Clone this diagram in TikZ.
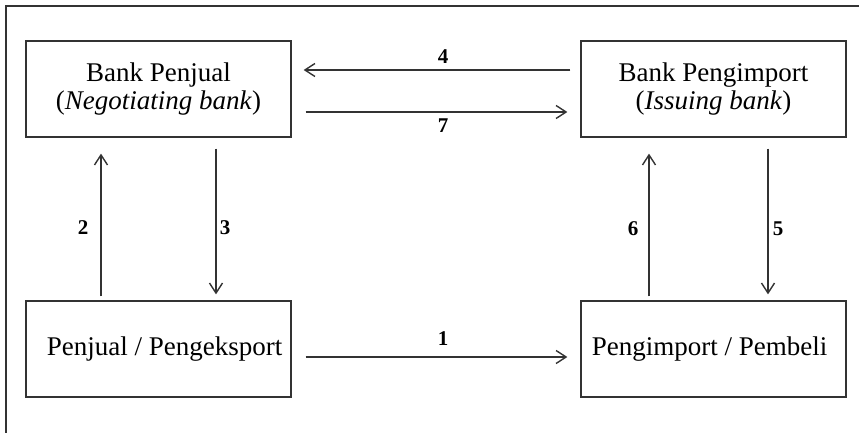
\documentclass[tikz,border=0pt]{standalone}
\usepackage{fontspec}
\setmainfont{Liberation Serif}
\usetikzlibrary{arrows.meta}
\begin{document}
\begin{tikzpicture}[x=1pt,y=-1pt,
  box/.style={draw=black!80,line width=1.3pt,minimum width=265pt,minimum height=96pt,
    inner sep=0pt,align=center,font=\fontsize{27}{28}\selectfont},
  arr/.style={draw=black!80,line width=1.4pt,-{Straight Barb[length=10pt,width=13pt,line width=1.4pt]}},
  num/.style={font=\fontsize{21}{24}\selectfont\bfseries,inner sep=1pt}]
\useasboundingbox (0,0) rectangle (859,433);
\draw[black!80,line width=1.3pt] (6,433) -- (6,6) -- (859,6);
\node[box] (BP) at (158.5,89) {Bank Penjual\\(\textit{Negotiating bank})};
\node[box] (BI) at (713.5,89) {Bank Pengimport\\(\textit{Issuing bank})};
\node[box] (PP) at (158.5,349) {\hspace*{12pt}Penjual / Pengeksport};
\node[box] (PB) at (713.5,349) {Pengimport / Pembeli\hspace*{8pt}};
% 4
\draw[arr] ([xshift=-10pt,yshift=19pt]BI.west) -- ([xshift=12pt,yshift=19pt]BP.east);
\node[num] (n4) at (443,57) {4};
% 7
\draw[arr] ([xshift=14pt,yshift=-23pt]BP.east) -- ([xshift=-13pt,yshift=-23pt]BI.west);
\node[num] (n7) at (443,126) {7};
% 1
\draw[arr] ([xshift=14pt,yshift=-8pt]PP.east) -- ([xshift=-13pt,yshift=-8pt]PB.west);
\node[num] (n1) at (443,339) {1};
% 2
\draw[arr] ([xshift=-57.5pt,yshift=4pt]PP.north) -- ([xshift=-57.5pt,yshift=-16pt]BP.south);
\node[num] (n2) at (83,228) {2};
% 3
\draw[arr] ([xshift=57.5pt,yshift=-11pt]BP.south) -- ([xshift=57.5pt,yshift=6pt]PP.north);
\node[num] (n3) at (225,228) {3};
% 6
\draw[arr] ([xshift=-64.5pt,yshift=4pt]PB.north) -- ([xshift=-64.5pt,yshift=-16pt]BI.south);
\node[num] (n6) at (633,229) {6};
% 5
\draw[arr] ([xshift=54.5pt,yshift=-11pt]BI.south) -- ([xshift=54.5pt,yshift=6pt]PB.north);
\node[num] (n5) at (778,229) {5};
\end{tikzpicture}
\end{document}
